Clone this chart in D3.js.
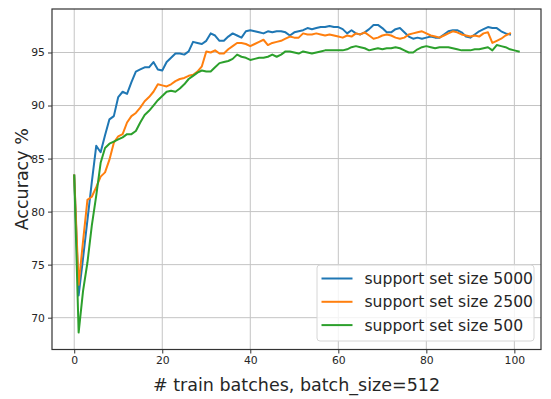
<!DOCTYPE html>
<html>
<head>
<meta charset="utf-8">
<script src="https://cdn.jsdelivr.net/npm/d3@7"></script>
<style>
  body { margin: 0; background: #fff; }
  text { font-family: "DejaVu Sans", sans-serif; fill: #262626; }
</style>
</head>
<body>
<div id="wrapper"></div>
<script>
// accuracy per train batch, one array per support set size
const acc5000 = [83.4, 72.1, 75.6, 79.2, 82.8, 86.2, 85.6, 87.2, 88.7, 89.0,
    90.8, 91.3, 91.1, 92.2, 93.2, 93.4, 93.6, 93.6, 94.1, 93.4,
    93.3, 94.1, 94.5, 94.9, 94.9, 94.8, 95.1, 96.0, 95.9, 95.8,
    96.1, 96.8, 96.6, 96.1, 96.1, 96.5, 96.8, 96.6, 96.4, 97.0,
    97.1, 97.0, 96.9, 96.8, 97.0, 96.9, 97.0, 97.0, 96.9, 96.6,
    96.9, 97.0, 97.1, 97.3, 97.2, 97.3, 97.4, 97.4, 97.5, 97.4,
    97.4, 97.2, 96.8, 97.1, 96.8, 96.7, 96.9, 97.2, 97.6, 97.6,
    97.3, 96.9, 96.9, 97.2, 97.3, 96.9, 96.5, 96.3, 96.4, 96.3,
    96.4, 96.5, 96.4, 96.4, 96.7, 97.0, 97.1, 97.1, 96.9, 96.5,
    96.4, 96.7, 97.0, 97.2, 97.4, 97.3, 97.3, 97.0, 96.8, 96.7];

const acc2500 = [83.4, 73.1, 77.2, 81.1, 81.4, 82.3, 83.3, 83.7, 84.9, 86.5,
    87.1, 87.3, 88.4, 89.0, 89.3, 89.8, 90.4, 90.8, 91.3, 92.0,
    91.9, 91.8, 92.0, 92.3, 92.5, 92.6, 92.8, 92.9, 93.2, 93.7,
    95.1, 95.0, 95.2, 94.9, 94.9, 95.3, 95.6, 95.9, 95.9, 95.8,
    95.6, 95.8, 96.0, 96.2, 95.7, 95.9, 96.0, 96.1, 96.3, 96.5,
    96.4, 96.4, 96.8, 96.7, 96.7, 96.8, 96.7, 96.6, 96.7, 96.6,
    96.5, 96.4, 96.6, 96.5, 96.8, 96.7, 96.9, 96.6, 96.3, 96.4,
    96.6, 96.7, 96.6, 96.4, 96.3, 96.4, 96.7, 96.8, 96.9, 97.0,
    96.8, 96.6, 96.5, 96.4, 96.6, 96.8, 97.0, 96.9, 96.7, 96.6,
    96.5, 96.6, 96.5, 96.8, 96.9, 95.9, 96.1, 96.3, 96.6, 96.8];

const acc500 = [83.4, 68.6, 72.5, 75.2, 78.7, 81.5, 84.6, 86.0, 86.4, 86.6,
    86.8, 87.0, 87.3, 87.3, 87.6, 88.4, 89.1, 89.5, 90.0, 90.5,
    90.9, 91.3, 91.4, 91.3, 91.6, 92.0, 92.5, 92.8, 93.1, 93.3,
    93.2, 93.2, 93.6, 94.0, 94.1, 94.2, 94.4, 94.8, 94.6, 94.5,
    94.3, 94.4, 94.5, 94.5, 94.6, 94.8, 94.6, 94.8, 95.1, 95.1,
    95.0, 94.9, 95.1, 95.0, 94.9, 95.0, 95.1, 95.2, 95.2, 95.2,
    95.2, 95.2, 95.3, 95.5, 95.6, 95.5, 95.4, 95.2, 95.3, 95.4,
    95.3, 95.4, 95.4, 95.5, 95.4, 95.2, 95.0, 95.0, 95.3, 95.5,
    95.6, 95.5, 95.4, 95.5, 95.5, 95.5, 95.4, 95.3, 95.2, 95.2,
    95.2, 95.3, 95.3, 95.4, 95.5, 95.2, 95.7, 95.6, 95.5, 95.3,
    95.2, 95.1];

const seriesNames = ["support set size 5000", "support set size 2500", "support set size 500"];
const seriesColors = ["#1f77b4", "#ff7f0e", "#2ca02c"];
const xTicks = [0, 20, 40, 60, 80, 100];
const yTicks = [70, 75, 80, 85, 90, 95];

const series = [acc5000, acc2500, acc500].map((values, i) => ({
    name: seriesNames[i],
    color: seriesColors[i],
    values: values
}));

var dimension = {
    width: 551,
    height: 399,
    margin: { top: 9, left: 52, bottom: 49.5, right: 10 }
};
dimension.boundedWidth = dimension.width - dimension.margin.left - dimension.margin.right;
dimension.boundedHeight = dimension.height - dimension.margin.top - dimension.margin.bottom;

const svg = d3.select("#wrapper").append("svg")
    .attr("width", dimension.width)
    .attr("height", dimension.height);

const bounded = svg.append("g")
    .attr("transform", `translate(${dimension.margin.left}, ${dimension.margin.top})`);

const xScaler = d3.scaleLinear()
    .domain([-5.05, 106.05])
    .range([0, dimension.boundedWidth]);

const yScaler = d3.scaleLinear()
    .domain([67.0, 99.1])
    .range([dimension.boundedHeight, 0]);

// grid
bounded.append("g")
    .selectAll("line.gx")
    .data(xTicks)
    .join("line")
    .attr("x1", d => xScaler(d)).attr("x2", d => xScaler(d))
    .attr("y1", 0).attr("y2", dimension.boundedHeight)
    .attr("stroke", "#c4c4c4").attr("stroke-width", 1);

bounded.append("g")
    .selectAll("line.gy")
    .data(yTicks)
    .join("line")
    .attr("x1", 0).attr("x2", dimension.boundedWidth)
    .attr("y1", d => yScaler(d)).attr("y2", d => yScaler(d))
    .attr("stroke", "#c4c4c4").attr("stroke-width", 1);

// lines
const lineGenerator = d3.line()
    .x((d, i) => xScaler(i))
    .y(d => yScaler(d));

bounded.append("g")
    .selectAll("path")
    .data(series)
    .join("path")
    .attr("d", d => lineGenerator(d.values))
    .attr("fill", "none")
    .attr("stroke", d => d.color)
    .attr("stroke-width", 2)
    .attr("stroke-linejoin", "round")
    .attr("stroke-linecap", "square");

// axes
const xAxis = d3.axisBottom(xScaler).tickValues(xTicks).tickSize(4).tickPadding(3);
const yAxis = d3.axisLeft(yScaler).tickValues(yTicks).tickSize(4).tickPadding(3);

const xg = bounded.append("g")
    .attr("transform", `translate(0, ${dimension.boundedHeight})`)
    .call(xAxis);
const yg = bounded.append("g").call(yAxis);

[xg, yg].forEach(g => {
    g.select(".domain").remove();
    g.selectAll(".tick line").attr("stroke", "#333");
    g.selectAll(".tick text")
        .style("font-family", "DejaVu Sans")
        .style("font-size", "10.8px")
        .attr("fill", "#262626");
});

bounded.append("rect")
    .attr("width", dimension.boundedWidth)
    .attr("height", dimension.boundedHeight)
    .attr("fill", "none")
    .attr("stroke", "#333")
    .attr("stroke-width", 1.2);

// labels
svg.append("text")
    .attr("x", dimension.margin.left + dimension.boundedWidth / 2)
    .attr("y", 391)
    .attr("text-anchor", "middle")
    .style("font-size", "17.5px")
    .text("# train batches, batch_size=512");

svg.append("text")
    .attr("transform", `translate(28, ${dimension.margin.top + dimension.boundedHeight / 2}) rotate(-90)`)
    .attr("text-anchor", "middle")
    .style("font-size", "17.5px")
    .text("Accuracy %");

// legend
const legend = bounded.append("g")
    .attr("transform", `translate(${dimension.boundedWidth - 224}, ${dimension.boundedHeight - 84.5})`);

legend.append("rect")
    .attr("width", 217).attr("height", 76)
    .attr("rx", 3)
    .attr("fill", "#fff").attr("fill-opacity", 0.8)
    .attr("stroke", "#d6d6d6");

const item = legend.selectAll("g.item")
    .data(series)
    .join("g")
    .attr("transform", (d, i) => `translate(0, ${13.5 + i * 23.3})`);

item.append("line")
    .attr("x1", 4.5).attr("x2", 35.5)
    .attr("stroke", d => d.color).attr("stroke-width", 2);

item.append("text")
    .attr("x", 47.5)
    .attr("dy", "0.35em")
    .style("font-size", "15.6px")
    .text(d => d.name);
</script>
</body>
</html>
